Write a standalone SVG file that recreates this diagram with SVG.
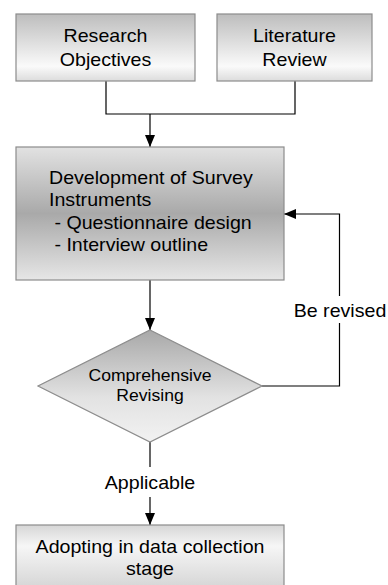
<svg xmlns="http://www.w3.org/2000/svg" width="388" height="585" viewBox="0 0 388 585">
<defs>
<linearGradient id="g1" x1="0" y1="0" x2="0" y2="1">
<stop offset="0" stop-color="#bdbdbd"/><stop offset="0.78" stop-color="#fafafa"/><stop offset="1" stop-color="#dcdcdc"/>
</linearGradient>
<linearGradient id="g3" x1="0" y1="0" x2="0" y2="1">
<stop offset="0" stop-color="#e2e2e2"/><stop offset="0.5" stop-color="#a9a9a9"/><stop offset="1" stop-color="#e6e6e6"/>
</linearGradient>
<linearGradient id="gd" x1="0" y1="0" x2="0" y2="1">
<stop offset="0" stop-color="#a8a8a8"/><stop offset="0.6" stop-color="#e2e2e2"/><stop offset="1" stop-color="#f2f2f2"/>
</linearGradient>
<linearGradient id="g4" x1="0" y1="0" x2="0" y2="1">
<stop offset="0" stop-color="#d6d6d6"/><stop offset="0.3" stop-color="#f6f6f6"/><stop offset="1" stop-color="#d0d0d0"/>
</linearGradient>
<marker id="ah" viewBox="0 0 12 10" refX="12" refY="5" markerWidth="12" markerHeight="10" markerUnits="userSpaceOnUse" orient="auto">
<path d="M0,0 L12,5 L0,10 Z" fill="#000"/>
</marker>
<style>
.box{stroke:#8c8c8c;stroke-width:1.2}
.t{font-family:"Liberation Sans",Arial,sans-serif;font-size:18px;fill:#000}
.ts{font-family:"Liberation Sans",Arial,sans-serif;font-size:16px;fill:#000}
.c{fill:none;stroke:#000;stroke-width:1.2}
</style>
</defs>
<g id="connectors">
<polyline class="c" points="106,81 106,114 295,114 295,81"/>
<line class="c" x1="150" y1="114" x2="150" y2="147" marker-end="url(#ah)"/>
<line class="c" x1="150" y1="280" x2="150" y2="330" marker-end="url(#ah)"/>
<polyline class="c" points="262,386 339.5,386 339.5,323"/>
<polyline class="c" points="339.5,296 339.5,214 284,214" marker-end="url(#ah)"/>
<line class="c" x1="150" y1="442" x2="150" y2="467"/>
<line class="c" x1="150" y1="497" x2="150" y2="525" marker-end="url(#ah)"/>
<g transform="translate(340,317) scale(1.09,1)"><text class="t" x="0" y="0" text-anchor="middle">Be revised</text></g>
<g transform="translate(150,489) scale(1.09,1)"><text class="t" x="0" y="0" text-anchor="middle">Applicable</text></g>
</g>
<g id="research-objectives">
<rect class="box" x="16" y="14" width="179" height="67" fill="url(#g1)"/>
<g transform="translate(105.5,0) scale(1.09,1)">
<text class="t" x="0" y="42" text-anchor="middle">Research</text>
<text class="t" x="0" y="66" text-anchor="middle">Objectives</text>
</g>
</g>
<g id="literature-review">
<rect class="box" x="217" y="14" width="155" height="67" fill="url(#g1)"/>
<g transform="translate(294.5,0) scale(1.09,1)">
<text class="t" x="0" y="42" text-anchor="middle">Literature</text>
<text class="t" x="0" y="66" text-anchor="middle">Review</text>
</g>
</g>
<g id="development">
<rect class="box" x="16" y="147" width="268" height="133" fill="url(#g3)"/>
<g transform="translate(49,0) scale(1.09,1)">
<text class="t" x="0" y="184">Development of Survey</text>
<text class="t" x="0" y="206.5">Instruments</text>
<text class="t" x="0" y="229" xml:space="preserve"> - Questionnaire design</text>
<text class="t" x="0" y="251.5" xml:space="preserve"> - Interview outline</text>
</g>
</g>
<g id="comprehensive-revising">
<polygon class="box" points="150,330 262,386 150,442 38,386" fill="url(#gd)"/>
<g transform="translate(150,0) scale(1.1,1)">
<text class="ts" x="0" y="381.5" text-anchor="middle">Comprehensive</text>
<text class="ts" x="0" y="401.5" text-anchor="middle">Revising</text>
</g>
</g>
<g id="adopting">
<rect class="box" x="16" y="525" width="268" height="70" fill="url(#g4)"/>
<g transform="translate(150,0) scale(1.09,1)">
<text class="t" x="0" y="553" text-anchor="middle">Adopting in data collection</text>
<text class="t" x="0" y="575.5" text-anchor="middle">stage</text>
</g>
</g>
</svg>
